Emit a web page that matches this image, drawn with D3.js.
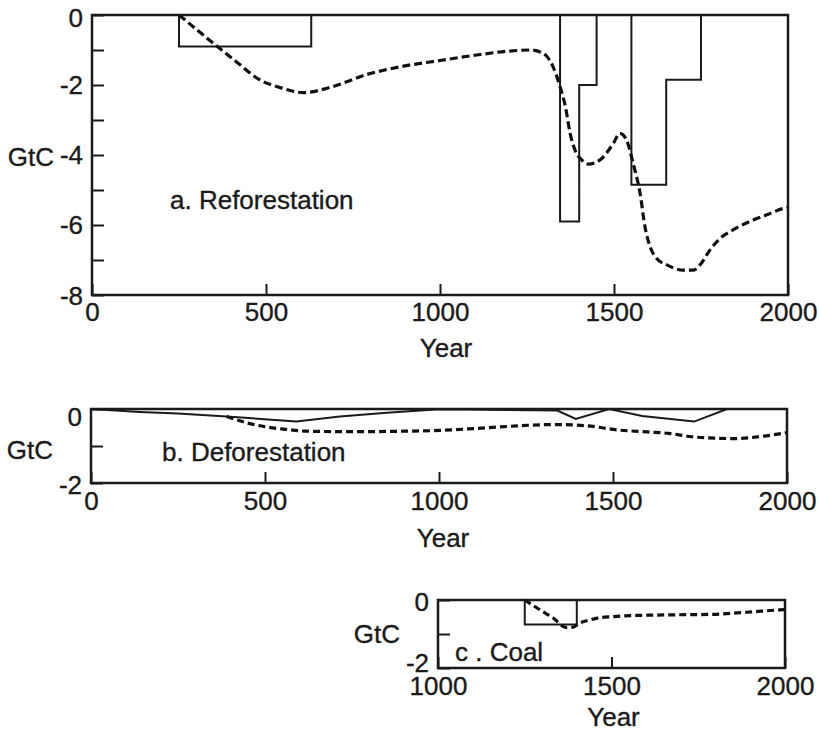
<!DOCTYPE html>
<html>
<head>
<meta charset="utf-8">
<script src="https://cdn.jsdelivr.net/npm/d3@7"></script>
<style>
  body { margin: 0; background: #fff; }
  text { font-family: "Liberation Sans", Arial, Helvetica, sans-serif; fill: #1a1a1a; stroke: #1a1a1a; stroke-width: 0.35px; }
</style>
</head>
<body>
<svg id="chart" width="819" height="732"></svg>
<script>
// a. Reforestation - prescribed uptake (step) and model response (dashed)
var reforStepYears = [0, 250, 630, 1345, 1400, 1450, 1550, 1650, 1750, 2000];
var reforStepValues = [0, -0.9, 0, -5.9, -2.0, 0, -4.85, -1.85, 0, 0];
var reforRespYears = [250, 300, 360, 420, 480, 550, 607, 690, 790, 885, 1000, 1100, 1200, 1260,
  1296, 1325, 1345, 1360, 1374, 1388, 1407, 1426, 1460, 1498, 1517, 1536, 1555, 1575, 1589,
  1603, 1622, 1652, 1699, 1728, 1747, 1776, 1805, 1842, 1890, 1939, 1986, 2000];
var reforRespValues = [0, -0.41, -0.9, -1.38, -1.84, -2.1, -2.22, -2.05, -1.7, -1.48, -1.3, -1.15, -1.03, -1.0,
  -1.09, -1.48, -2.05, -2.6, -3.38, -3.86, -4.14, -4.26, -4.14, -3.67, -3.38, -3.57, -4.24, -5.1, -6.05,
  -6.6, -6.95, -7.14, -7.29, -7.29, -7.14, -6.71, -6.38, -6.14, -5.9, -5.71, -5.53, -5.5];

// b. Deforestation
var deforYears = [0, 140, 250, 390, 590, 715, 850, 1000, 1340, 1393, 1489, 1584, 1733, 1828, 2000];
var deforValues = [0, -0.08, -0.12, -0.2, -0.34, -0.2, -0.1, -0.01, -0.04, -0.27, 0, -0.19, -0.34, 0, 0];
var deforRespYears = [390, 450, 500, 560, 620, 700, 800, 900, 1000, 1100, 1200, 1330, 1421, 1517,
  1600, 1661, 1727, 1800, 1852, 1920, 1986, 2000];
var deforRespValues = [-0.2, -0.38, -0.48, -0.55, -0.6, -0.61, -0.61, -0.6, -0.58, -0.53, -0.47, -0.42, -0.45, -0.57,
  -0.62, -0.66, -0.75, -0.79, -0.8, -0.75, -0.66, -0.64];

// c. Coal
var coalStepYears = [1000, 1250, 1400, 2000];
var coalStepValues = [0, -0.72, 0, 0];
var coalRespYears = [1250, 1294, 1332, 1370, 1389, 1408, 1440, 1466, 1500, 1553, 1650, 1792, 1888, 1985, 2000];
var coalRespValues = [0, -0.29, -0.53, -0.81, -0.8, -0.68, -0.58, -0.52, -0.49, -0.46, -0.44, -0.42, -0.36, -0.29, -0.28];

// tick labels
var yearTicksFull = [0, 500, 1000, 1500, 2000];
var yearTicksCoal = [1000, 1500, 2000];
var gtcTicksA = [0, -1, -2, -3, -4, -5, -6, -7, -8];
var gtcTicksSmall = [0, -1, -2];

function zip(xs, ys) {
	return xs.map(function(v, i) { return [v, ys[i]]; });
}

var svg = d3.select('#chart');
var fontSize = '26px';

function drawPanel(p) {
	var x = d3.scaleLinear().domain(p.xDomain).range([p.left, p.right]);
	var y = d3.scaleLinear().domain(p.yDomain).range([p.bottom, p.top]);
	var g = svg.append('g');

	var yAxis = d3.axisLeft(y)
		.tickValues(p.yTicks)
		.tickSizeInner(-12)
		.tickSizeOuter(0)
		.tickPadding(9)
		.tickFormat(function(d) { return d % 2 === 0 ? String(d) : ''; });
	var xAxis = d3.axisBottom(x)
		.tickValues(p.xTicks)
		.tickSizeInner(-11)
		.tickSizeOuter(0)
		.tickPadding(p.xPad)
		.tickFormat(function(d) { return String(d); });

	var ya = g.append('g').attr('transform', 'translate(' + p.left + ',0)').call(yAxis);
	var xa = g.append('g').attr('transform', 'translate(0,' + p.bottom + ')').call(xAxis);
	[ya, xa].forEach(function(a) {
		a.attr('font-size', null).attr('font-family', null);
		a.select('.domain').remove();
		a.selectAll('line').attr('stroke', '#1a1a1a').attr('stroke-width', 2);
		a.selectAll('text').style('font-size', fontSize).attr('fill', '#1a1a1a');
	});
	// nudge the end labels of the value axis like the original figure
	ya.selectAll('text')
		.attr('y', function(d) {
			if (d === p.yDomain[1]) return p.topShift;
			if (d === p.yDomain[0]) return p.bottomShift;
			return 0;
		});

	var line = d3.line().x(function(d) { return x(d[0]); }).y(function(d) { return y(d[1]); });

	g.append('path')
		.attr('d', line.curve(p.stepCurve)(p.step))
		.attr('fill', 'none')
		.attr('stroke', '#1a1a1a')
		.attr('stroke-width', 2);

	g.append('path')
		.attr('d', line.curve(d3.curveMonotoneX)(p.resp))
		.attr('fill', 'none')
		.attr('stroke', '#111')
		.attr('stroke-width', 3.2)
		.attr('stroke-dasharray', p.dash);

	g.append('rect')
		.attr('x', p.left).attr('y', p.top)
		.attr('width', p.right - p.left).attr('height', p.bottom - p.top)
		.attr('fill', 'none')
		.attr('stroke', '#1a1a1a')
		.attr('stroke-width', 2.5);

	g.append('text')
		.attr('x', p.left - 38)
		.attr('y', (p.top + p.bottom) / 2 + p.gtcShift)
		.attr('dy', '0.35em')
		.attr('text-anchor', 'end')
		.style('font-size', fontSize)
		.text('GtC');

	g.append('text')
		.attr('x', (p.left + p.right) / 2 + p.yearShift)
		.attr('y', p.bottom + p.yearOffset)
		.attr('text-anchor', 'middle')
		.style('font-size', fontSize)
		.text('Year');

	g.append('text')
		.attr('x', p.labelX)
		.attr('y', p.labelY)
		.style('font-size', fontSize)
		.text(p.label);
}

drawPanel({
	left: 92, right: 788, top: 15, bottom: 295,
	xDomain: [0, 2000], yDomain: [-8, 0],
	xTicks: yearTicksFull, yTicks: gtcTicksA, xPad: 8,
	topShift: 3, bottomShift: 1,
	step: zip(reforStepYears, reforStepValues), stepCurve: d3.curveStepAfter,
	resp: zip(reforRespYears, reforRespValues), dash: '8,4',
	gtcShift: 2, yearShift: 6, yearOffset: 62,
	label: 'a. Reforestation', labelX: 170, labelY: 209
});

drawPanel({
	left: 91, right: 787, top: 409, bottom: 483,
	xDomain: [0, 2000], yDomain: [-2, 0],
	xTicks: yearTicksFull, yTicks: gtcTicksSmall, xPad: 8.5,
	topShift: 8, bottomShift: 2,
	step: zip(deforYears, deforValues), stepCurve: d3.curveLinear,
	resp: zip(deforRespYears, deforRespValues), dash: '7,4',
	gtcShift: 4, yearShift: 4, yearOffset: 64,
	label: 'b. Deforestation', labelX: 162, labelY: 461
});

drawPanel({
	left: 438, right: 785, top: 600, bottom: 668,
	xDomain: [1000, 2000], yDomain: [-2, 0],
	xTicks: yearTicksCoal, yTicks: gtcTicksSmall, xPad: 9,
	topShift: 2, bottomShift: -5,
	step: zip(coalStepYears, coalStepValues), stepCurve: d3.curveStepAfter,
	resp: zip(coalRespYears, coalRespValues), dash: '7,4',
	gtcShift: 0, yearShift: 2, yearOffset: 58,
	label: 'c . Coal', labelX: 455, labelY: 661
});
</script>
</body>
</html>
